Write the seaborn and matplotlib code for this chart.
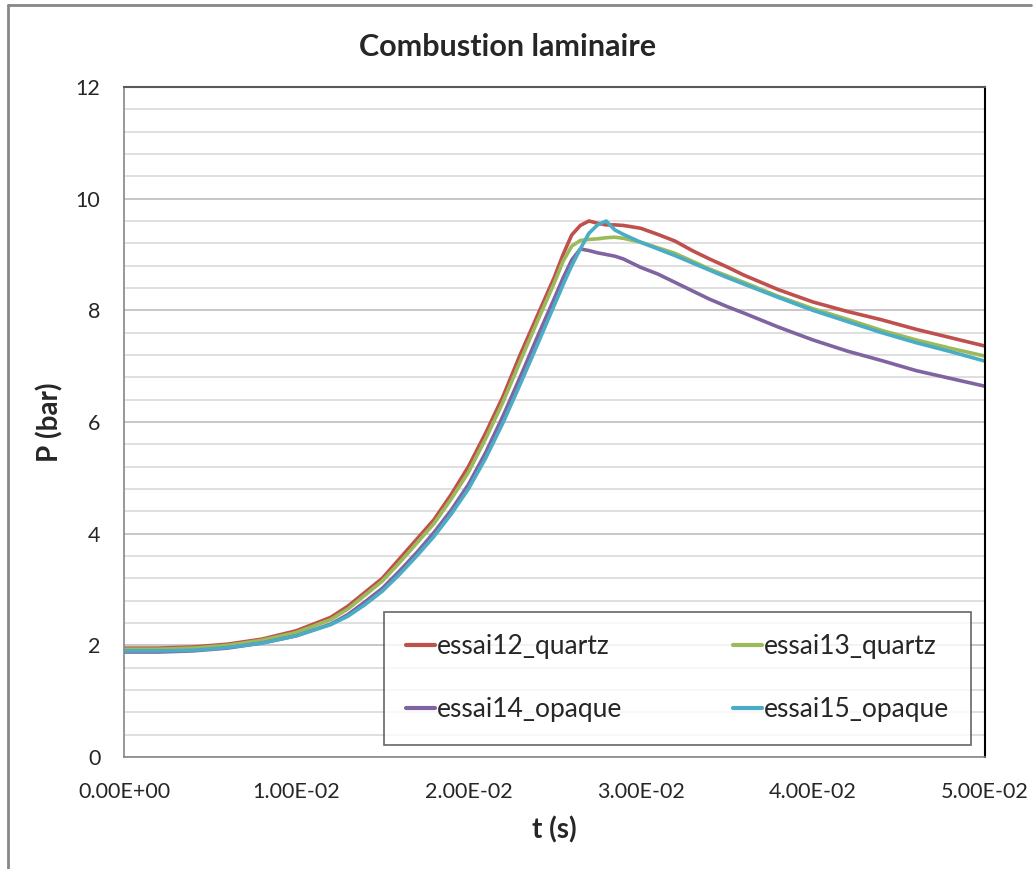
import matplotlib
matplotlib.use("Agg")
import matplotlib.pyplot as plt
from matplotlib.lines import Line2D
from matplotlib.ticker import MultipleLocator, FuncFormatter
import seaborn as sns
import pandas as pd

# time (s)
t = [0, 0.002, 0.004, 0.006, 0.008, 0.010, 0.012, 0.013, 0.014, 0.015,
     0.016, 0.017, 0.018, 0.019, 0.020, 0.021, 0.022, 0.023, 0.024, 0.025,
     0.0255, 0.026, 0.0265, 0.027, 0.0275, 0.028, 0.0285, 0.029, 0.030, 0.031,
     0.032, 0.033, 0.034, 0.035, 0.036, 0.038, 0.040, 0.042, 0.044, 0.046,
     0.048, 0.050]

# pressure (bar)
essai12_quartz = [1.95, 1.95, 1.97, 2.02, 2.11, 2.26, 2.50, 2.70, 2.95, 3.20,
                  3.55, 3.90, 4.25, 4.70, 5.20, 5.80, 6.45, 7.20, 7.90, 8.60,
                  9.00, 9.35, 9.52, 9.60, 9.56, 9.53, 9.53, 9.52, 9.47, 9.36,
                  9.24, 9.07, 8.92, 8.78, 8.63, 8.37, 8.15, 7.98, 7.83, 7.66,
                  7.51, 7.36]
essai13_quartz = [1.93, 1.93, 1.95, 2.00, 2.09, 2.23, 2.46, 2.65, 2.90, 3.15,
                  3.48, 3.83, 4.18, 4.62, 5.10, 5.70, 6.35, 7.08, 7.80, 8.50,
                  8.88, 9.15, 9.25, 9.27, 9.28, 9.30, 9.31, 9.29, 9.22, 9.12,
                  9.02, 8.88, 8.74, 8.62, 8.50, 8.25, 8.03, 7.84, 7.64, 7.47,
                  7.32, 7.18]
essai14_opaque = [1.88, 1.88, 1.90, 1.95, 2.04, 2.17, 2.38, 2.55, 2.78, 3.02,
                  3.33, 3.66, 4.02, 4.42, 4.88, 5.45, 6.10, 6.80, 7.52, 8.22,
                  8.58, 8.90, 9.10, 9.07, 9.03, 9.00, 8.97, 8.92, 8.77, 8.65,
                  8.50, 8.35, 8.20, 8.07, 7.95, 7.70, 7.47, 7.27, 7.10, 6.92,
                  6.78, 6.64]
essai15_opaque = [1.90, 1.90, 1.91, 1.96, 2.04, 2.17, 2.37, 2.52, 2.73, 2.97,
                  3.27, 3.60, 3.95, 4.35, 4.80, 5.35, 5.98, 6.67, 7.38, 8.10,
                  8.46, 8.80, 9.10, 9.38, 9.53, 9.60, 9.44, 9.36, 9.22, 9.10,
                  8.98, 8.85, 8.72, 8.59, 8.47, 8.23, 8.00, 7.80, 7.60, 7.42,
                  7.26, 7.09]

series = {
    "essai12_quartz": essai12_quartz,
    "essai13_quartz": essai13_quartz,
    "essai14_opaque": essai14_opaque,
    "essai15_opaque": essai15_opaque,
}
colors = {
    "essai12_quartz": "#C0504D",
    "essai13_quartz": "#9BBB59",
    "essai14_opaque": "#8064A2",
    "essai15_opaque": "#4BACC6",
}

df = pd.concat(
    [pd.DataFrame({"t": t, "P": v, "essai": k}) for k, v in series.items()],
    ignore_index=True)

sns.set_style("white")
plt.rcParams["font.family"] = ["Lato", "DejaVu Sans"]

fig = plt.figure(figsize=(10.35, 8.69), dpi=100)
ax = fig.add_axes([0.1198, 0.1289, 0.8319, 0.7710])

sns.lineplot(data=df, x="t", y="P", hue="essai", palette=colors,
             linewidth=2.6, ax=ax, sort=False)

ax.set_xlim(0, 0.05)
ax.set_ylim(0, 12)
ax.xaxis.set_major_locator(MultipleLocator(0.01))
ax.yaxis.set_major_locator(MultipleLocator(2))
ax.yaxis.set_minor_locator(MultipleLocator(0.4))
ax.xaxis.set_major_formatter(FuncFormatter(lambda v, p: f"{v:.2E}"))
ax.grid(which="major", axis="y", color="#bdbdbd", linewidth=1.2)
ax.grid(which="minor", axis="y", color="#d9d9d9", linewidth=1.2)
ax.grid(which="major", axis="x", visible=False)
ax.set_axisbelow(True)
ax.tick_params(axis="both", which="both", length=0, labelsize=15.5)
ax.tick_params(axis="y", pad=17)
ax.tick_params(axis="x", pad=18)

for s in ["left", "bottom"]:
    ax.spines[s].set_color("#868686")
    ax.spines[s].set_linewidth(1.2)
ax.spines["top"].set_color("#595959")
ax.spines["top"].set_linewidth(1.5)
ax.spines["right"].set_color("black")
ax.spines["right"].set_linewidth(1.5)

# title is centred on the whole chart, not on the plot area
ax.set_title("Combustion laminaire", fontsize=22, fontweight="bold",
             x=0.445, pad=22)
ax.set_xlabel("t (s)", fontsize=20, fontweight="bold", labelpad=10)
ax.set_ylabel("P (bar)", fontsize=20, fontweight="bold", labelpad=9)

# row-wise legend order like the original
handles, labels = ax.get_legend_handles_labels()
order = [0, 2, 1, 3]
leg = ax.legend([handles[i] for i in order], [labels[i] for i in order],
                loc="lower left", bbox_to_anchor=(0.302, 0.018, 0.682, 0.2),
                mode="expand", ncol=2, fontsize=19, frameon=True, fancybox=False,
                handlelength=1.1, handletextpad=0.05, labelspacing=1.45,
                borderpad=0.85, columnspacing=1.0, borderaxespad=0)
leg.get_frame().set_edgecolor("#404040")
leg.get_frame().set_linewidth(1.2)
for h in leg.get_lines():
    h.set_linewidth(3)

fig.add_artist(Line2D([0.008, 0.008], [0.0, 0.994], transform=fig.transFigure,
                      color="#878787", linewidth=2))
fig.add_artist(Line2D([0.008, 0.996], [0.994, 0.994], transform=fig.transFigure,
                      color="#878787", linewidth=2))

fig.savefig("out.png", dpi=100)
